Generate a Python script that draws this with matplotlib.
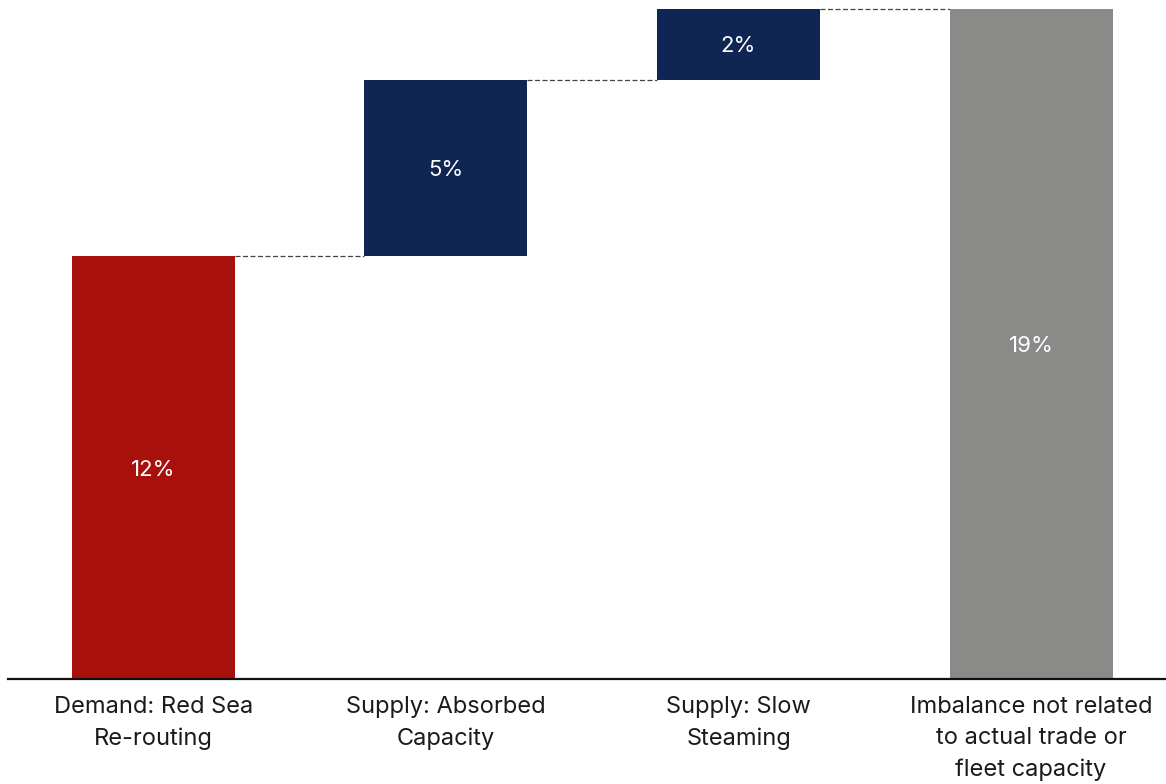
import matplotlib
matplotlib.use("Agg")
import matplotlib.pyplot as plt

categories = ["Demand: Red Sea\nRe-routing", "Supply: Absorbed\nCapacity",
              "Supply: Slow\nSteaming", "Imbalance not related\nto actual trade or\nfleet capacity"]
values = [12, 5, 2, 19]
is_total = [False, False, False, True]
colors = ["#A8100B", "#0F2654", "#0F2654", "#8A8A88"]
labels = ["12%", "5%", "2%", "19%"]

plt.rcParams["font.family"] = ["Inter", "DejaVu Sans"]

fig = plt.figure(figsize=(11.66, 7.84), dpi=100)
ax = fig.add_axes([8 / 1166, 105 / 784, 1 - 8 / 1166, 679 / 784])

width = 0.557
bottoms = []
running = 0
for v, tot in zip(values, is_total):
    if tot:
        bottoms.append(0)
    else:
        bottoms.append(running)
        running += v

xs = list(range(len(values)))
ax.bar(xs, values, bottom=bottoms, width=width, color=colors, zorder=2)

for x, v, b, lab in zip(xs, values, bottoms, labels):
    ax.text(x, b + v / 2, lab, ha="center", va="center_baseline", color="white",
            fontsize=16)

# dashed connectors between consecutive bar tops
for i in range(len(values) - 1):
    top = bottoms[i] + values[i]
    ax.plot([xs[i] + width / 2, xs[i + 1] - width / 2], [top, top],
            ls=(0, (4, 2)), color="#444444", lw=0.9, zorder=1)

ax.set_xlim(-0.497, 3.461)
ax.set_ylim(0, 679 / 35.25)
ax.set_xticks(xs)
ax.set_xticklabels(categories, fontsize=17, color="#1a1a1a", linespacing=1.55)
ax.tick_params(axis="x", length=0, pad=12)
ax.set_yticks([])
for s in ["top", "right", "left"]:
    ax.spines[s].set_visible(False)
ax.spines["bottom"].set_linewidth(1.6)
ax.spines["bottom"].set_color("#111111")

fig.savefig("out.png", dpi=100)
